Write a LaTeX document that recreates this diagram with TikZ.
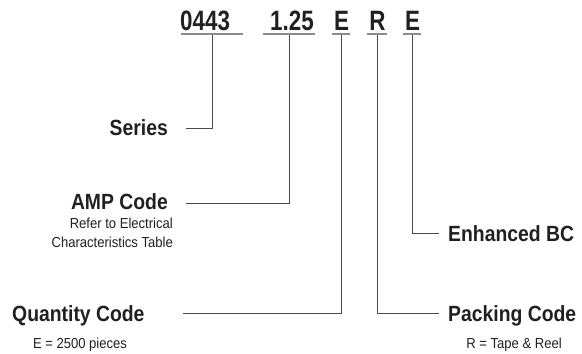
\documentclass[tikz,border=0pt]{standalone}
\usepackage{fontspec}
\newfontfamily\numfont[FakeStretch=0.8]{Liberation Sans Bold}
\newfontfamily\lblfont[FakeStretch=0.88]{Liberation Sans Bold}
\newfontfamily\subfont[FakeStretch=0.9]{Liberation Sans}
\definecolor{ink}{HTML}{231F20}
\definecolor{uline}{HTML}{8C8C8C}
\definecolor{cline}{HTML}{4A4A4A}
\begin{document}
\begin{tikzpicture}[x=1pt,y=-1pt,
  num/.style={inner sep=0pt,text=ink,font=\numfont\fontsize{28}{30}\selectfont},
  lbl/.style={inner sep=0pt,text=ink,font=\lblfont\fontsize{22}{24}\selectfont},
  sub/.style={inner sep=0pt,text=ink,font=\subfont\fontsize{14.5}{16}\selectfont},
  under/.style={draw=uline,line width=1.6pt},
  conn/.style={draw=cline,line width=0.9pt}]
\useasboundingbox (0,0) rectangle (582,354);
% part number
\node[num,anchor=base west] (p0443) at (180,30) {0443};
\node[num,anchor=base east] (p125) at (314,30) {1.25};
\node[num,anchor=base] (pE1) at (341.5,30) {E};
\node[num,anchor=base] (pR) at (377.5,30) {R};
\node[num,anchor=base] (pE2) at (412.5,30) {E};
% underlines
\coordinate (u1a) at (181,34); \coordinate (u1b) at (243,34);
\coordinate (u2a) at (263,34); \coordinate (u2b) at (315,34);
\coordinate (u3a) at (332,34); \coordinate (u3b) at (350,34);
\coordinate (u4a) at (367,34); \coordinate (u4b) at (387,34);
\coordinate (u5a) at (403,34); \coordinate (u5b) at (421,34);
\draw[under] (u1a) -- (u1b);
\draw[under] (u2a) -- (u2b);
\draw[under] (u3a) -- (u3b);
\draw[under] (u4a) -- (u4b);
\draw[under] (u5a) -- (u5b);
% connector tops
\coordinate (t1) at (212,35);
\coordinate (t2) at (289,35);
\coordinate (t3) at (341,35);
\coordinate (t4) at (377,35);
\coordinate (t5) at (412,35);
% connector ends
\coordinate (e1) at (186,128);
\coordinate (e2) at (186,203);
\coordinate (e3) at (183,313);
\coordinate (e4) at (439,313);
\coordinate (e5) at (439,233);
\draw[conn] (t1) |- (e1);
\draw[conn] (t2) |- (e2);
\draw[conn] (t3) |- (e3);
\draw[conn] (t4) |- (e4);
\draw[conn] (t5) |- (e5);
% labels
\node[lbl,anchor=base east] (series) at (168,135) {Series};
\node[lbl,anchor=base east] (amp) at (168,209) {AMP Code};
\node[sub,anchor=base east] (amp1) at (173,228) {Refer to Electrical};
\node[sub,anchor=base east] (amp2) at (173,247) {Characteristics Table};
\node[lbl,anchor=base west] (qty) at (12,321) {Quantity Code};
\node[sub,anchor=base] (qty1) at (80,348) {E = 2500 pieces};
\node[lbl,anchor=base west] (pack) at (448,321) {Packing Code};
\node[sub,anchor=base] (pack1) at (514,348) {R = Tape \& Reel};
\node[lbl,anchor=base west] (bc) at (448,241) {Enhanced BC};
\end{tikzpicture}
\end{document}
